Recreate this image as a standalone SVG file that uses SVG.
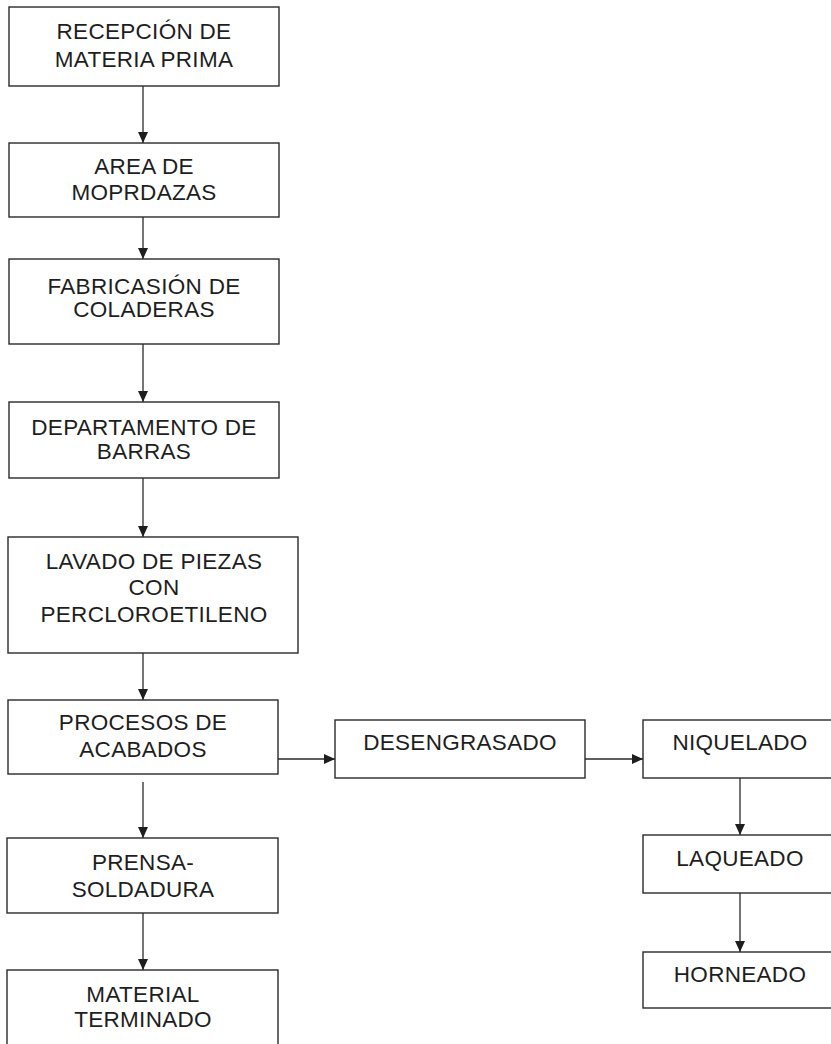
<svg xmlns="http://www.w3.org/2000/svg" width="831" height="1044" viewBox="0 0 831 1044">
<style>
.box{fill:#fff;stroke:#2a2a2a;stroke-width:1.4}
.lbl{font-family:"Liberation Sans",Arial,sans-serif;font-size:22.5px;letter-spacing:0.3px;fill:#1e1e1e;text-anchor:middle}
.con{stroke:#2a2a2a;stroke-width:1.3;fill:none;marker-end:url(#ah)}
</style>
<defs>
<marker id="ah" markerUnits="userSpaceOnUse" markerWidth="11" markerHeight="11" refX="11" refY="5" orient="auto">
<path d="M0,0 L11,5 L0,10 z" fill="#1e1e1e"/>
</marker>
</defs>
<rect width="831" height="1044" fill="#fff"/>
<g id="connectors">
<line class="con" x1="143" y1="86" x2="143" y2="143"/>
<line class="con" x1="143" y1="217" x2="143" y2="259"/>
<line class="con" x1="143" y1="344" x2="143" y2="402"/>
<line class="con" x1="143" y1="478" x2="143" y2="537"/>
<line class="con" x1="143" y1="653" x2="143" y2="700"/>
<line class="con" x1="143" y1="782" x2="143" y2="838"/>
<line class="con" x1="143" y1="913" x2="143" y2="970"/>
<line class="con" x1="278" y1="759" x2="335" y2="759"/>
<line class="con" x1="585" y1="759" x2="643" y2="759"/>
<line class="con" x1="740" y1="778" x2="740" y2="835"/>
<line class="con" x1="740" y1="893" x2="740" y2="952"/>
</g>
<g id="n1"><rect class="box" x="9" y="7" width="270" height="79"/>
<text class="lbl" x="144" y="39">RECEPCIÓN DE</text><text class="lbl" x="144" y="67">MATERIA PRIMA</text></g>
<g id="n2"><rect class="box" x="9" y="143" width="270" height="74"/>
<text class="lbl" x="144" y="174">AREA DE</text><text class="lbl" x="144" y="200">MOPRDAZAS</text></g>
<g id="n3"><rect class="box" x="9" y="259" width="270" height="85"/>
<text class="lbl" x="144" y="294">FABRICASIÓN DE</text><text class="lbl" x="144" y="317">COLADERAS</text></g>
<g id="n4"><rect class="box" x="9" y="402" width="270" height="76"/>
<text class="lbl" x="144" y="435">DEPARTAMENTO DE</text><text class="lbl" x="144" y="459">BARRAS</text></g>
<g id="n5"><rect class="box" x="8" y="537" width="290" height="116"/>
<text class="lbl" x="154" y="569">LAVADO DE PIEZAS</text><text class="lbl" x="154" y="595">CON</text><text class="lbl" x="154" y="622">PERCLOROETILENO</text></g>
<g id="n6"><rect class="box" x="8" y="700" width="270" height="74"/>
<text class="lbl" x="143" y="730">PROCESOS DE</text><text class="lbl" x="143" y="757">ACABADOS</text></g>
<g id="n7"><rect class="box" x="335" y="720" width="250" height="58"/>
<text class="lbl" x="460" y="750">DESENGRASADO</text></g>
<g id="n8"><rect class="box" x="643" y="720" width="195" height="58"/>
<text class="lbl" x="740" y="750">NIQUELADO</text></g>
<g id="n9"><rect class="box" x="643" y="835" width="195" height="58"/>
<text class="lbl" x="740" y="866">LAQUEADO</text></g>
<g id="n10"><rect class="box" x="643" y="952" width="195" height="56"/>
<text class="lbl" x="740" y="982">HORNEADO</text></g>
<g id="n11"><rect class="box" x="7" y="838" width="271" height="75"/>
<text class="lbl" x="143" y="870">PRENSA-</text><text class="lbl" x="143" y="897">SOLDADURA</text></g>
<g id="n12"><rect class="box" x="7" y="970" width="271" height="90"/>
<text class="lbl" x="143" y="1002">MATERIAL</text><text class="lbl" x="143" y="1027">TERMINADO</text></g>
</svg>
